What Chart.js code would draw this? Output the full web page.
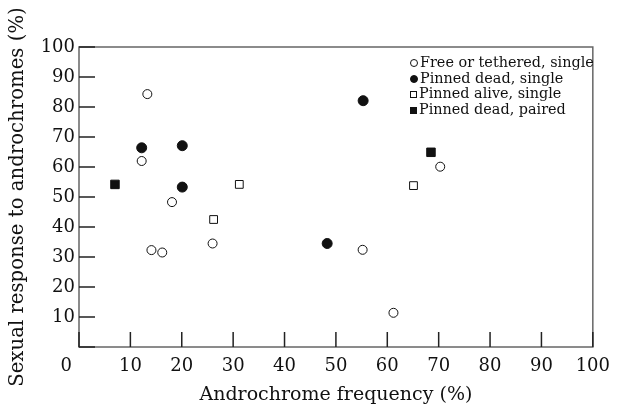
<!DOCTYPE html>
<html>
<head>
<meta charset="utf-8">
<script src="https://cdn.jsdelivr.net/npm/chart.js@4.4.0/dist/chart.umd.min.js"></script>
<style>
  body { margin: 0; background: #fff; }
  #wrap { position: relative; width: 619px; height: 406px; }
  #legend { position: absolute; left: 410px; top: 55px; font: 14.4px "DejaVu Serif", serif; line-height: 15.7px; color: #111; }
  #legend div { white-space: nowrap; }
  .mk { display: inline-block; width: 7px; height: 7px; margin-right: 2px; box-sizing: border-box; border: 1px solid #111; vertical-align: 0px; }
  .mk.circ { border-radius: 50%; width: 8px; height: 8px; }
  .mk.fill { background: #111; }
</style>
</head>
<body>
<div id="wrap">
  <canvas id="chart" width="619" height="406"></canvas>
  <div id="legend"></div>
</div>
<script>
// Androchrome frequency (%) vs sexual response to androchromes (%)
const seriesNames = ['Free or tethered, single', 'Pinned dead, single', 'Pinned alive, single', 'Pinned dead, paired'];

const freeX = [13.3, 12.2, 18.1, 14.1, 16.2, 26.0, 55.2, 61.2, 70.3];
const freeY = [84.3, 62.0, 48.3, 32.3, 31.5, 34.5, 32.4, 11.4, 60.1];

const deadX = [12.2, 20.1, 20.1, 55.3, 48.3];
const deadY = [66.4, 67.1, 53.3, 82.1, 34.5];

const aliveX = [26.2, 31.2, 65.1];
const aliveY = [42.5, 54.2, 53.8];

const pairedX = [7.0, 68.5];
const pairedY = [54.2, 64.9];

const tickValues = [0, 10, 20, 30, 40, 50, 60, 70, 80, 90, 100];

const toPoints = (xs, ys) => xs.map((x, i) => ({ x: x, y: ys[i] }));

const ink = '#111';
const serif = '"DejaVu Serif", serif';

// inward ticks, frame and the shared "0" label
const framePlugin = {
  id: 'frame',
  beforeDatasetsDraw(chart) {
    const { ctx, chartArea: a, scales: { x, y } } = chart;
    ctx.save();
    ctx.strokeStyle = '#666';
    ctx.lineWidth = 1.5;
    ctx.strokeRect(a.left, a.top, a.right - a.left, a.bottom - a.top);
    ctx.strokeStyle = '#222';
    ctx.lineWidth = 1.5;
    ctx.beginPath();
    x.ticks.forEach(t => {
      const px = x.getPixelForValue(t.value);
      ctx.moveTo(px, a.bottom);
      ctx.lineTo(px, a.bottom - 15);
    });
    y.ticks.forEach(t => {
      const py = y.getPixelForValue(t.value);
      ctx.moveTo(a.left, py);
      ctx.lineTo(a.left + 16, py);
    });
    ctx.stroke();
    ctx.fillStyle = ink;
    ctx.font = '18px ' + serif;
    ctx.textAlign = 'right';
    ctx.textBaseline = 'middle';
    ctx.fillText('0', a.left - 7, a.bottom + 19);
    ctx.restore();
  }
};

new Chart(document.getElementById('chart'), {
  type: 'scatter',
  data: {
    datasets: [
      { label: seriesNames[0], data: toPoints(freeX, freeY), pointStyle: 'circle', pointRadius: 4.5, backgroundColor: '#fff', borderColor: ink, borderWidth: 1 },
      { label: seriesNames[1], data: toPoints(deadX, deadY), pointStyle: 'circle', pointRadius: 5, backgroundColor: ink, borderColor: ink, borderWidth: 1 },
      { label: seriesNames[2], data: toPoints(aliveX, aliveY), pointStyle: 'rect', pointRadius: 5.5, backgroundColor: '#fff', borderColor: ink, borderWidth: 1 },
      { label: seriesNames[3], data: toPoints(pairedX, pairedY), pointStyle: 'rect', pointRadius: 6, backgroundColor: ink, borderColor: ink, borderWidth: 1 }
    ]
  },
  options: {
    responsive: false,
    animation: false,
    layout: { padding: { left: 0, right: 22, top: 47, bottom: 0 } },
    plugins: { legend: { display: false }, tooltip: { enabled: false } },
    scales: {
      x: {
        min: 0, max: 100,
        afterBuildTicks: s => { s.ticks = tickValues.map(v => ({ value: v })); },
        afterFit: s => { s.height = 59; },
        grid: { display: false, drawTicks: false },
        border: { display: false },
        ticks: { color: ink, font: { family: serif, size: 18 }, padding: 9, maxRotation: 0, autoSkip: false, callback: v => v === 0 ? '' : v },
        title: { display: true, text: 'Androchrome frequency (%)', color: ink, font: { family: serif, size: 19 }, padding: { top: 0, bottom: 0 } }
      },
      y: {
        min: 0, max: 100,
        afterBuildTicks: s => { s.ticks = tickValues.map(v => ({ value: v })); },
        afterFit: s => { s.width = 79; },
        grid: { display: false, drawTicks: false },
        border: { display: false },
        ticks: { color: ink, font: { family: serif, size: 18 }, padding: 4, autoSkip: false, callback: v => v === 0 ? '' : v },
        title: { display: true, text: 'Sexual response to androchromes (%)', color: ink, font: { family: serif, size: 19.7 }, padding: { top: 6, bottom: 0 } }
      }
    }
  },
  plugins: [framePlugin]
});

// legend drawn inside the plot area, top right
const legendMarks = ['circ', 'circ fill', '', 'fill'];
document.getElementById('legend').innerHTML = seriesNames.map((n, i) =>
  `<div><span class="mk ${legendMarks[i]}"></span>${n}</div>`).join('');
</script>
</body>
</html>
